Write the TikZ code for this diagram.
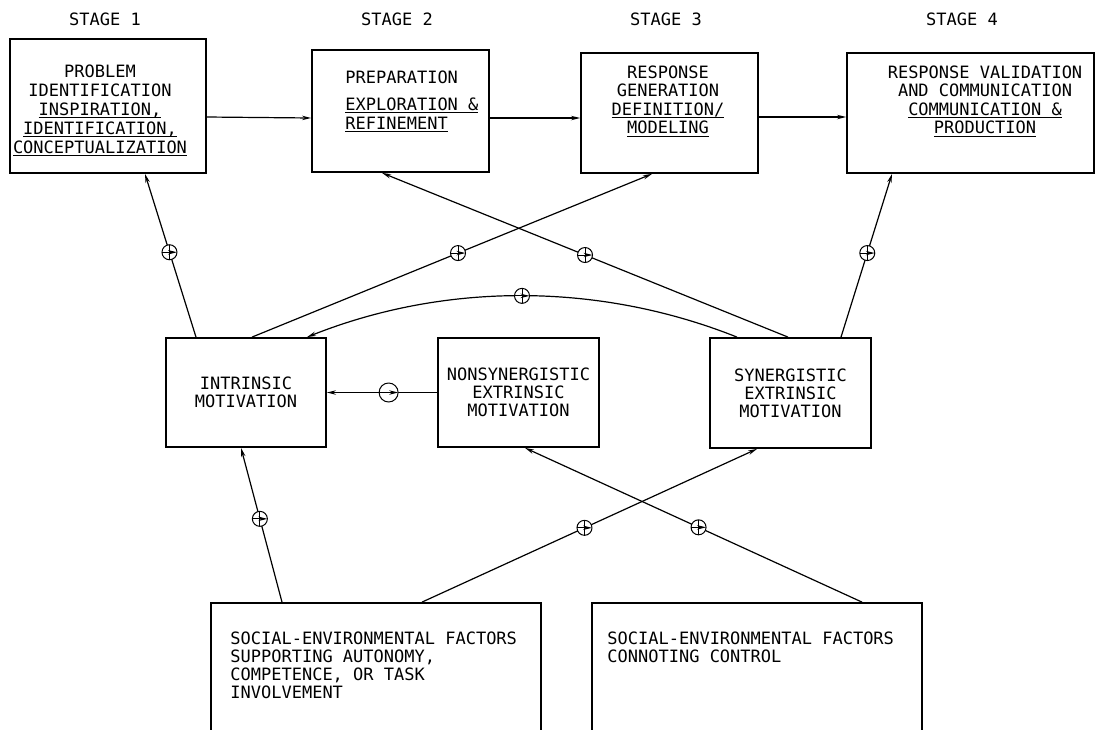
\documentclass[tikz,border=0pt]{standalone}
\usepackage{fontspec}
\setmainfont{DejaVu Sans Mono}
\usetikzlibrary{arrows.meta}
\newcommand{\undl}[1]{\setbox0\hbox{#1}\rlap{\rule[-1.4pt]{\wd0}{0.55pt}}\box0}

\begin{document}
\begin{tikzpicture}[x=0.5pt,y=-0.5pt,
        every node/.style={font=\fontsize{8.5pt}{9pt}\selectfont},
        stagebox/.style={draw, line width=0.9pt, inner sep=0pt, align=center},
        boxtext/.style={inner sep=0pt},
        toptext/.style={boxtext, font=\fontsize{8.5pt}{9.3pt}\selectfont},
        link/.style={line width=0.6pt, -{Stealth[length=4.5pt,width=2.2pt]}},
        pluscirc/.style={draw, circle, fill=white, line width=0.5pt, inner sep=0pt, minimum size=7.5pt,
            path picture={\draw[line width=0.5pt] (path picture bounding box.north) -- (path picture bounding box.south)
                (path picture bounding box.west) -- (path picture bounding box.east);}},
        minuscirc/.style={draw, circle, fill=white, line width=0.5pt, inner sep=0pt, minimum size=9.5pt,
            path picture={\draw[line width=0.5pt] (path picture bounding box.west) -- (path picture bounding box.east);}}]
        \useasboundingbox (0,0) rectangle (1096,729);
        \clip (0,0) rectangle (1096,729);

        \node (st1) at (105,19) {STAGE 1};
        \node (st2) at (397,19) {STAGE 2};
        \node (st3) at (666,19) {STAGE 3};
        \node (st4) at (962,19) {STAGE 4};

        \node[stagebox, minimum width=98pt, minimum height=67pt] (s1) at (108,106) {};
        \node[toptext, font=\fontsize{8.5pt}{9.5pt}\selectfont, align=center, anchor=north] (s1t) at (100,64)
            {PROBLEM\\IDENTIFICATION\\\undl{INSPIRATION,}\\\undl{IDENTIFICATION,}\\\undl{CONCEPTUALIZATION}};
        \node[stagebox, minimum width=88.5pt, minimum height=61pt] (s2) at (400.5,111) {};
        \node[toptext, align=left, anchor=north west] (s2t) at (345,70)
            {PREPARATION\\[4.5pt]\undl{EXPLORATION \&}\\\undl{REFINEMENT}};
        \node[stagebox, minimum width=88.5pt, minimum height=60pt] (s3) at (669.5,113) {};
        \node[toptext, align=center, anchor=north] (s3t) at (668,65)
            {RESPONSE\\GENERATION\\\undl{DEFINITION/}\\\undl{MODELING}};
        \node[stagebox, minimum width=123.5pt, minimum height=60pt] (s4) at (970.5,113) {};
        \node[toptext, align=center, anchor=north] (s4t) at (985,65)
            {RESPONSE VALIDATION\\AND COMMUNICATION\\\undl{COMMUNICATION \&}\\\undl{PRODUCTION}};

        \node[stagebox, minimum width=80pt, minimum height=54.5pt] (intr) at (246,392.5) {INTRINSIC\\MOTIVATION};
        \node[stagebox, minimum width=80.5pt, minimum height=54.5pt] (nonsyn) at (518.5,392.5) {NONSYNERGISTIC\\EXTRINSIC\\MOTIVATION};
        \node[stagebox, minimum width=80.5pt, minimum height=55pt] (syn) at (790.5,393) {SYNERGISTIC\\EXTRINSIC\\MOTIVATION};

        \node[stagebox, minimum width=165pt, minimum height=78.5pt] (supp) at (376,681.5) {};
        \node[boxtext, align=left, anchor=north west] (suppt) at (230,631)
            {SOCIAL-ENVIRONMENTAL FACTORS\\SUPPORTING AUTONOMY,\\COMPETENCE, OR TASK\\INVOLVEMENT};
        \node[stagebox, minimum width=165pt, minimum height=78.5pt] (ctrl) at (757,681.5) {};
        \node[boxtext, align=left, anchor=north west] (ctrlt) at (607,631)
            {SOCIAL-ENVIRONMENTAL FACTORS\\CONNOTING CONTROL};

        \draw[link] ([yshift=-5.5pt]s1.east) -- ([yshift=-3.5pt]s2.west);
        \draw[link] ([yshift=-3.5pt]s2.east) -- ([yshift=-2.5pt]s3.west);
        \draw[link] ([yshift=-2pt]s3.east) -- ([yshift=-2pt]s4.west);

        \draw[link] ([xshift=-25pt]intr.north) -- node[pluscirc, pos=0.52] (p1) {} ([xshift=18.5pt]s1.south);
        \draw[link] ([xshift=3pt]intr.north) -- node[pluscirc, pos=0.515] (p2) {} ([xshift=-8.75pt]s3.south);
        \draw[link] ([xshift=-1.25pt]syn.north) -- node[pluscirc, pos=0.5] (p3) {} ([xshift=-9.25pt]s2.south);
        \draw[link] ([xshift=25.25pt]syn.north) -- node[pluscirc, pos=0.515] (p4) {} ([xshift=-39.25pt]s4.south);
        \draw[link] ([xshift=-26.75pt]syn.north) .. controls +(-138,-55) and +(138,-55) .. node[pluscirc] (p5) {} ([xshift=30.5pt]intr.north);
        \draw[link] (nonsyn.west) -- node[minuscirc, pos=0.44] (m1) {} (intr.east);

        \draw[link] ([xshift=-47pt]supp.north) -- node[pluscirc, pos=0.54] (p6) {} ([xshift=-2.5pt]intr.south);
        \draw[link] ([xshift=23pt]supp.north) -- node[pluscirc, pos=0.485] (p7) {} ([xshift=-16.75pt]syn.south);
        \draw[link] ([xshift=52.5pt]ctrl.north) -- node[pluscirc, pos=0.485] (p8) {} ([xshift=3.25pt]nonsyn.south);
    \end{tikzpicture}
\end{document}
